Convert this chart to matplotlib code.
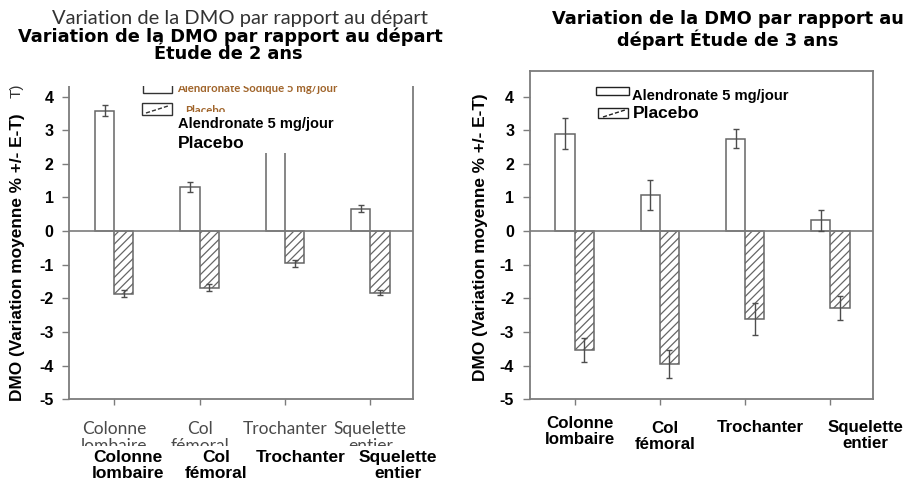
import matplotlib
matplotlib.use('Agg')
import matplotlib.pyplot as plt
from matplotlib.patches import Rectangle
from matplotlib.lines import Line2D
from matplotlib import transforms
import numpy as np

# ---------------- data ----------------
categories = ['Colonne\nlombaire', 'Col\nfémoral', 'Trochanter', 'Squelette\nentier']
alen_2y = [3.58, 1.31, 2.90, 0.67]
alen_2y_err = [0.16, 0.15, 0.20, 0.10]
plac_2y = [-1.86, -1.68, -0.96, -1.83]
plac_2y_err = [0.10, 0.10, 0.10, 0.07]
alen_3y = [2.90, 1.07, 2.75, 0.32]
alen_3y_err = [0.47, 0.45, 0.28, 0.31]
plac_3y = [-3.53, -3.95, -2.62, -2.28]
plac_3y_err = [0.36, 0.42, 0.47, 0.35]
yticks = [-5, -4, -3, -2, -1, 0, 1, 2, 3, 4]
title_2y = 'Variation de la DMO par rapport au départ'
subtitle_2y = 'Étude de 2 ans'
title_3y = 'Variation de la DMO par rapport au\ndépart Étude de 3 ans'
ylabel = 'DMO (Variation moyenne % +/- E-T)'
legend_alen = 'Alendronate 5 mg/jour'
legend_alen_orig = 'Alendronate Sodique 5 mg/jour'
legend_plac = 'Placebo'

# ---------------- style ----------------
plt.rcParams['font.family'] = ['Liberation Sans', 'DejaVu Sans']
plt.rcParams['axes.unicode_minus'] = False
plt.rcParams['hatch.linewidth'] = 0.9
W, H = 907, 487
GRAY = '#7c7c7c'
EDGE = '#666666'
TITLE_FONT = ['DejaVu Sans']

fig = plt.figure(figsize=(W / 100, H / 100), dpi=100)
fig.patch.set_facecolor('white')


def fx(px):
    return px / W


def fy(py):
    return 1 - py / H


ax1 = fig.add_axes([fx(69), fy(399.3), fx(413) - fx(69), fy(70.7) - fy(399.3)])
ax2 = fig.add_axes([fx(529.5), fy(399.3), fx(873) - fx(529.5), fy(70.7) - fy(399.3)])


def draw(ax, alen, aerr, plac, perr):
    x = np.arange(len(categories))
    w = 0.225
    ek = dict(ecolor='#4d4d4d', elinewidth=1.0, capsize=2.5, capthick=1.0, zorder=4)
    ax.bar(x - w / 2, alen, w, yerr=aerr, color='white', edgecolor=EDGE,
           linewidth=1.1, error_kw=ek, zorder=2)
    ax.bar(x + w / 2, plac, w, yerr=perr, color='white', edgecolor=EDGE,
           linewidth=1.1, hatch='////', error_kw=ek, zorder=2)
    ax.axhline(0, color=GRAY, lw=1.2, zorder=3)
    ax.set_xlim(-0.53, 3.5)
    ax.set_ylim(-5, 4.77)
    ax.set_yticks(yticks)
    ax.set_xticks(x)
    ax.set_xticklabels([])
    for s in ax.spines.values():
        s.set_color(GRAY)
        s.set_linewidth(1.3)
    ax.tick_params(axis='y', length=5, width=1.0, color=GRAY, labelsize=11.5, pad=6)
    ax.tick_params(axis='x', length=4, width=1.0, color=GRAY)
    for t in ax.get_yticklabels():
        t.set_fontweight('bold')
    return x


x1 = draw(ax1, alen_2y, alen_2y_err, plac_2y, plac_2y_err)
x2 = draw(ax2, alen_3y, alen_3y_err, plac_3y, plac_3y_err)

# ---------------- left chart: original (ghost) layer ----------------
bl1 = transforms.blended_transform_factory(ax1.transData, fig.transFigure)
for i, lab in zip(x1, categories):
    ax1.text(i, fy(421), lab, transform=bl1, ha='center', va='top',
             family=['Lato', 'DejaVu Sans'], fontsize=12.5, color='#4a4a4a',
             linespacing=1.05, clip_on=False)

# ghost legend
ax1.add_patch(Rectangle((fx(143), fy(93)), fx(29), 9 / H, transform=fig.transFigure,
                        fc='none', ec='#333333', lw=1.0, clip_on=False, zorder=6))
ax1.add_patch(Rectangle((fx(142), fy(115)), fx(30), 12 / H, transform=fig.transFigure,
                        fc='white', ec='#333333', lw=1.0, clip_on=False, zorder=6))
ax1.add_line(Line2D([fx(146), fx(168)], [fy(113), fy(106)], transform=fig.transFigure,
                    color='#333333', lw=1.0, ls=(0, (3, 1.5)), clip_on=False, zorder=6))
ax1.text(fx(177), fy(89), legend_alen_orig, transform=fig.transFigure, va='center',
         family=['Lato', 'DejaVu Sans'], fontsize=8.2, fontweight='bold', color='#a0642a',
         clip_on=False, zorder=6)
ax1.text(fx(185), fy(111), legend_plac, transform=fig.transFigure, va='center',
         family=['Lato', 'DejaVu Sans'], fontsize=8.2, fontweight='bold', color='#a0642a',
         clip_on=False, zorder=6)
ax1.text(fx(17), fy(91), 'T)', transform=fig.transFigure, rotation=90, ha='center',
         va='center', fontsize=11, color='#333333', clip_on=False)

# overlay box of the translated legend
ax1.add_patch(Rectangle((fx(175), fy(152.7)), fx(175), 40.7 / H, transform=fig.transFigure,
                        fc='white', ec='none', clip_on=False, zorder=10))
ax1.text(fx(178), fy(124), legend_alen, transform=fig.transFigure, va='center',
         fontsize=10.5, fontweight='bold', color='black', clip_on=False, zorder=11)
ax1.text(fx(178), fy(143), legend_plac, transform=fig.transFigure, va='center',
         fontsize=12.5, fontweight='bold', color='black', clip_on=False, zorder=11)

# white overlay boxes (translation layer)
fig.add_artist(Rectangle((0, fy(86)), fx(455), 1 - fy(86), transform=fig.transFigure,
                         fc='white', ec='none', zorder=5))
fig.add_artist(Rectangle((0, 0), fx(455), fy(446), transform=fig.transFigure,
                         fc='white', ec='none', zorder=5))

# titles (left)
fig.text(fx(240), fy(18.5), title_2y, ha='center', va='center',
         family=['Lato', 'DejaVu Sans'], fontsize=14.5, color='#333333', zorder=6)
fig.text(fx(230), fy(36.5), title_2y, ha='center', va='center', fontsize=12.8,
         fontweight='bold', family=TITLE_FONT, zorder=6)
fig.text(fx(228), fy(54), subtitle_2y, ha='center', va='center', fontsize=12.8,
         fontweight='bold', family=TITLE_FONT, zorder=6)

# translated x labels (left)
left_dx = [0.16, 0.19, 0.19, 0.32]
for i, lab, d in zip(x1, categories, left_dx):
    fig.text(i + d, fy(450), lab, transform=bl1, ha='center', va='top',
             fontsize=12.5, fontweight='bold', linespacing=1.1, zorder=6)

fig.text(fx(18), fy(257), ylabel, rotation=90, ha='center', va='center',
         fontsize=12.4, fontweight='bold', zorder=6)

# ---------------- right chart ----------------
fig.text(fx(728), fy(30), title_3y, ha='center', va='center', fontsize=12.8,
         fontweight='bold', family=TITLE_FONT, linespacing=1.12)
fig.text(fx(480), fy(237), ylabel, rotation=90, ha='center', va='center',
         fontsize=12.4, fontweight='bold')

bl2 = transforms.blended_transform_factory(ax2.transData, fig.transFigure)
right_dx = [0.06, 0.06, 0.18, 0.41]
right_y = [416, 421, 420, 420]
for i, lab, d, yy in zip(x2, categories, right_dx, right_y):
    ax2.text(i + d, fy(yy), lab, transform=bl2, ha='center', va='top',
             fontsize=12.2, fontweight='bold', linespacing=1.12, clip_on=False)

ax2.add_patch(Rectangle((fx(596), fy(95)), fx(33), 8 / H, transform=fig.transFigure,
                        fc='none', ec='#222222', lw=1.0, clip_on=False, zorder=6))
ax2.add_patch(Rectangle((fx(598), fy(118)), fx(30), 10 / H, transform=fig.transFigure,
                        fc='white', ec='#222222', lw=1.0, clip_on=False, zorder=6))
ax2.add_line(Line2D([fx(603), fx(625)], [fy(117), fy(110)], transform=fig.transFigure,
                    color='#222222', lw=1.0, ls=(0, (3, 1.5)), clip_on=False, zorder=6))
ax2.text(fx(632), fy(96), legend_alen, transform=fig.transFigure, va='center',
         fontsize=10.6, fontweight='bold', clip_on=False, zorder=6)
ax2.text(fx(633), fy(113), legend_plac, transform=fig.transFigure, va='center',
         fontsize=12.5, fontweight='bold', clip_on=False, zorder=6)

fig.savefig('out.png', dpi=100, facecolor='white')
